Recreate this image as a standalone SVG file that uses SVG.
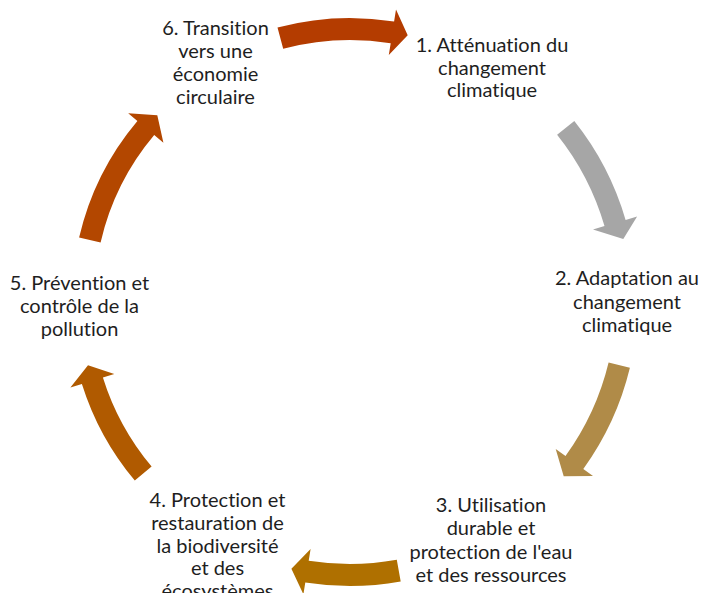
<svg xmlns="http://www.w3.org/2000/svg" width="702" height="593" viewBox="0 0 702 593">
<style>
.lbl{font-family:Lato,"Liberation Sans",sans-serif;font-size:20px;fill:#1e1e1e;text-anchor:middle;font-variant-ligatures:none;font-feature-settings:"liga" 0,"dlig" 0}
</style>
<rect width="702" height="593" fill="#ffffff"/>
<g id="connectors">
<path id="arrow-6-1" fill="#B43C00" d="M277.5,27.5 A282,282 0 0 1 394.1,21.5 L396.0,9.6 L407.7,35.2 L388.8,55.0 L390.7,43.2 A260,260 0 0 0 283.2,48.7 Z"/>
<path id="arrow-1-2" fill="#A6A6A6" d="M574.3,120.9 A287,287 0 0 1 625.6,219.9 L637.1,216.6 L623.3,238.9 L593.0,229.4 L604.5,226.1 A265,265 0 0 0 557.1,134.7 Z"/>
<path id="arrow-2-3" fill="#B08B48" d="M629.9,367.7 A288,288 0 0 1 583.3,468.9 L593.0,475.9 L563.7,476.2 L555.7,448.9 L565.5,456.0 A266,266 0 0 0 608.6,362.5 Z"/>
<path id="arrow-3-4" fill="#AF7000" d="M400.7,581.5 A286,286 0 0 1 305.3,582.5 L303.4,594.3 L291.4,568.7 L310.6,548.9 L308.7,560.8 A264,264 0 0 0 396.8,559.8 Z"/>
<path id="arrow-4-5" fill="#B05A00" d="M134.8,480.6 A281,281 0 0 1 81.9,384.0 L70.4,387.6 L88.0,365.3 L114.3,373.9 L102.9,377.4 A259,259 0 0 0 151.6,466.5 Z"/>
<path id="arrow-5-6" fill="#B34700" d="M79.1,237.5 A278,278 0 0 1 137.4,120.9 L128.2,113.2 L157.3,115.2 L163.4,142.8 L154.2,135.1 A256,256 0 0 0 100.6,242.4 Z"/>
</g>
<g id="node1"><text class="lbl"><tspan x="492" y="52">1. Atténuation du</tspan><tspan x="492" y="74.5">changement</tspan><tspan x="492" y="97">climatique</tspan></text></g>
<g id="node2"><text class="lbl"><tspan x="627" y="285">2. Adaptation au</tspan><tspan x="627" y="308.5">changement</tspan><tspan x="627" y="332">climatique</tspan></text></g>
<g id="node3"><text class="lbl"><tspan x="491" y="512">3. Utilisation</tspan><tspan x="491" y="535">durable et</tspan><tspan x="491" y="558.5">protection de l'eau</tspan><tspan x="491" y="582">et des ressources</tspan></text></g>
<g id="node4"><text class="lbl"><tspan x="217.5" y="507">4. Protection et</tspan><tspan x="217.5" y="530">restauration de</tspan><tspan x="217.5" y="552.5">la biodiversité</tspan><tspan x="217.5" y="575">et des</tspan><tspan x="217.5" y="598">écosystèmes</tspan></text></g>
<g id="node5"><text class="lbl"><tspan x="79.5" y="290">5. Prévention et</tspan><tspan x="79.5" y="313">contrôle de la</tspan><tspan x="79.5" y="336">pollution</tspan></text></g>
<g id="node6"><text class="lbl"><tspan x="215.5" y="35">6. Transition</tspan><tspan x="215.5" y="58">vers une</tspan><tspan x="215.5" y="81">économie</tspan><tspan x="215.5" y="103.5">circulaire</tspan></text></g>
</svg>
